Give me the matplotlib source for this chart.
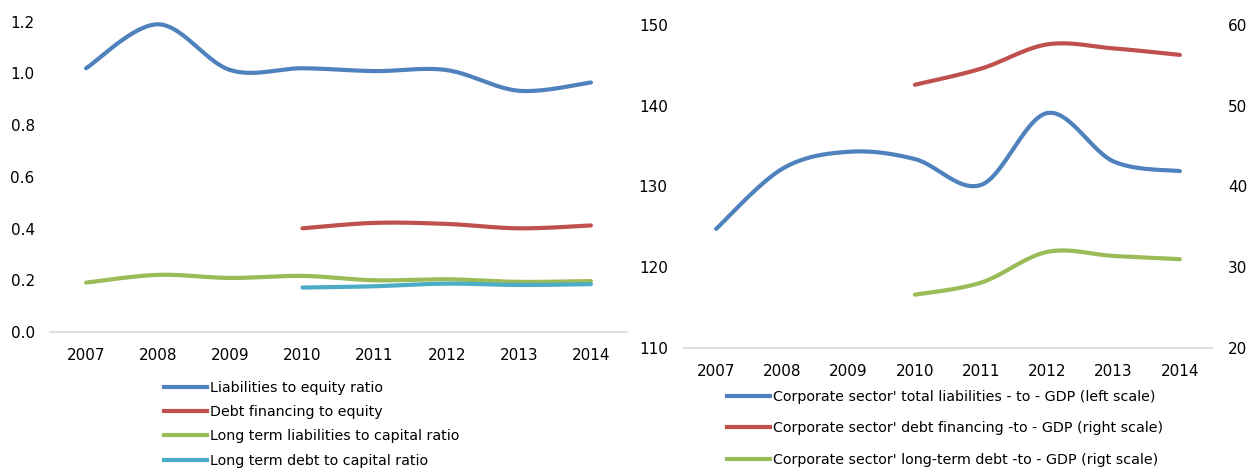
import numpy as np
import matplotlib
matplotlib.use("Agg")
import matplotlib.pyplot as plt
from matplotlib.lines import Line2D

plt.rcParams['font.family'] = ['DejaVu Sans']

years = ["2007", "2008", "2009", "2010", "2011", "2012", "2013", "2014"]

# Left chart
liab_equity = [1.02, 1.19, 1.013, 1.02, 1.009, 1.013, 0.933, 0.965]
debt_equity = [None, None, None, 0.401, 0.422, 0.418, 0.401, 0.412]
lt_liab_capital = [0.191, 0.221, 0.209, 0.217, 0.200, 0.204, 0.194, 0.197]
lt_debt_capital = [None, None, None, 0.172, 0.177, 0.187, 0.182, 0.185]
left_labels = ["Liabilities to equity ratio", "Debt financing to equity",
               "Long term liabilities to capital ratio", "Long term debt to capital ratio"]

# Right chart
total_liab_gdp = [124.75, 132.2, 134.3, 133.4, 130.2, 139.1, 133.1, 131.9]   # left scale
debt_fin_gdp = [None, None, None, 52.6, 54.6, 57.6, 57.1, 56.3]             # right scale
lt_debt_gdp = [None, None, None, 26.6, 28.1, 31.9, 31.4, 31.0]              # right scale
right_labels = ["Corporate sector' total liabilities - to - GDP (left scale)",
                "Corporate sector' debt financing -to - GDP (right scale)",
                "Corporate sector' long-term debt -to - GDP (rigt scale)"]

BLUE, RED, GREEN, CYAN = "#4F81BD", "#C0504D", "#9BBB59", "#4BACC6"
LW = 3.0
FS = 11
LFS = 10.3


def smooth(vals, n=30):
    pts = [(i, v) for i, v in enumerate(vals) if v is not None]
    x = np.array([p[0] for p in pts], float)
    y = np.array([p[1] for p in pts], float)
    xs, ys = [], []
    k = len(x)
    for i in range(k - 1):
        p0 = np.array([x[max(i - 1, 0)], y[max(i - 1, 0)]])
        p1 = np.array([x[i], y[i]])
        p2 = np.array([x[i + 1], y[i + 1]])
        p3 = np.array([x[min(i + 2, k - 1)], y[min(i + 2, k - 1)]])
        c1 = p1 + (p2 - p0) / 6.0
        c2 = p2 - (p3 - p1) / 6.0
        t = np.linspace(0, 1, n)[:, None]
        b = ((1 - t) ** 3) * p1 + 3 * ((1 - t) ** 2) * t * c1 + 3 * (1 - t) * t ** 2 * c2 + t ** 3 * p2
        xs.extend(b[:, 0]); ys.extend(b[:, 1])
    return np.array(xs), np.array(ys)


def style(ax):
    for s in ax.spines.values():
        s.set_visible(False)
    ax.axhline(ax.get_ylim()[0], color="#D9D9D9", lw=1.2, clip_on=False, zorder=0)
    ax.tick_params(length=0)


fig = plt.figure(figsize=(12.5, 4.7), dpi=100)

# ---- Left chart
ax = fig.add_axes([0.04, 0.2936, 0.4616, 0.6602])
for vals, c in [(liab_equity, BLUE), (debt_equity, RED), (lt_liab_capital, GREEN), (lt_debt_capital, CYAN)]:
    xs, ys = smooth(vals)
    ax.plot(xs, ys, color=c, lw=LW, solid_capstyle="round")
ax.set_xlim(-0.5, 7.5)
ax.set_ylim(0, 1.2)
ax.set_yticks(np.arange(0, 1.21, 0.2))
ax.set_yticklabels([f"{v:.1f}" for v in np.arange(0, 1.21, 0.2)], fontsize=FS)
ax.set_xticks(range(len(years)))
ax.set_xticklabels(years, fontsize=FS)
ax.tick_params(axis="y", pad=11)
ax.tick_params(axis="x", pad=11.5)
style(ax)

handles = [Line2D([], [], color=c, lw=LW) for c in (BLUE, RED, GREEN, CYAN)]
fig.legend(handles, left_labels, loc="upper left", bbox_to_anchor=(0.131, 0.19),
           frameon=False, fontsize=LFS, handlelength=3.0, handletextpad=0.2,
           labelspacing=0.72, borderaxespad=0, borderpad=0)

# ---- Right chart
axr = fig.add_axes([0.5464, 0.2596, 0.424, 0.6872])
axr2 = axr.twinx()
xs, ys = smooth(total_liab_gdp)
axr.plot(xs, ys, color=BLUE, lw=LW, solid_capstyle="round")
for vals, c in [(debt_fin_gdp, RED), (lt_debt_gdp, GREEN)]:
    xs, ys = smooth(vals)
    axr2.plot(xs, ys, color=c, lw=LW, solid_capstyle="round")
axr.set_xlim(-0.5, 7.5)
axr.set_ylim(110, 150)
axr2.set_ylim(20, 60)
axr.set_yticks(range(110, 151, 10))
axr2.set_yticks(range(20, 61, 10))
axr.set_yticklabels([str(v) for v in range(110, 151, 10)], fontsize=FS)
axr2.set_yticklabels([str(v) for v in range(20, 61, 10)], fontsize=FS)
axr.set_xticks(range(len(years)))
axr.set_xticklabels(years, fontsize=FS)
axr.tick_params(axis="y", pad=11)
axr2.tick_params(axis="y", pad=11, length=0)
axr.tick_params(axis="x", pad=11.5)
style(axr)
for s in axr2.spines.values():
    s.set_visible(False)

handles = [Line2D([], [], color=c, lw=LW) for c in (BLUE, RED, GREEN)]
fig.legend(handles, right_labels, loc="upper left", bbox_to_anchor=(0.5816, 0.1697),
           frameon=False, fontsize=LFS, handlelength=3.0, handletextpad=0.2,
           labelspacing=1.2, borderaxespad=0, borderpad=0)

fig.savefig("out.png", dpi=100, facecolor="white")
